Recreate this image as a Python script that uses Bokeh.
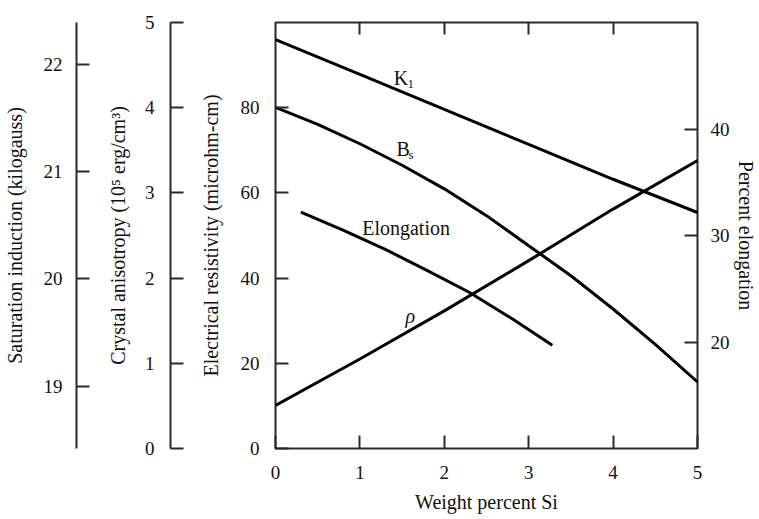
import math
from bokeh.plotting import figure
from bokeh.models import LinearAxis, Range1d, FixedTicker, Label, Title
from bokeh.embed import file_html
from bokeh.resources import INLINE

# ---- data ----
si = [0, 1, 2, 3, 4, 5]
k1 = [4.80, 4.39, 3.98, 3.57, 3.16, 2.77]            # 10^5 erg/cm^3
si_bs = [0, 0.5, 1, 1.5, 2, 2.5, 3, 3.5, 4, 4.5, 5]
bs = [21.60, 21.44, 21.26, 21.06, 20.84, 20.59, 20.31, 20.03, 19.72, 19.39, 19.04]  # kG
rho = [10.1, 21.0, 32.3, 44.1, 56.2, 67.6]           # microhm-cm
si_el = [0.3, 0.8, 1.3, 1.8, 2.3, 2.8, 3.28]
elong = [32.2, 30.5, 28.7, 26.7, 24.65, 22.2, 19.7]  # percent

x_ticks = [0, 1, 2, 3, 4, 5]
top_ticks = [1, 2, 3, 4]
res_ticks = [0, 20, 40, 60, 80]
k1_ticks = [0, 1, 2, 3, 4, 5]
bs_ticks = [19, 20, 21, 22]
el_ticks = [20, 30, 40]

FONT = "Liberation Serif"
INK = "#111111"
AX = "#2a2a2a"

p = figure(width=759, height=519, x_range=Range1d(0, 5), y_range=Range1d(0, 100),
           output_backend="svg", toolbar_location=None,
           min_border_left=275, min_border_right=62, min_border_top=22, min_border_bottom=71)
p.extra_y_ranges = {"k1": Range1d(0, 5), "bs": Range1d(18.42, 22.39), "el": Range1d(10, 50)}
p.xgrid.visible = False
p.ygrid.visible = False
p.outline_line_color = AX
p.outline_line_width = 2
p.background_fill_color = "white"
p.border_fill_color = "white"


def style(ax, ticks, tin, standoff, label=None, lstandoff=0, line=True, labels=True):
    ax.ticker = FixedTicker(ticks=ticks)
    ax.major_tick_in = tin
    ax.major_tick_out = 0
    ax.major_tick_line_width = 2
    ax.major_tick_line_color = AX
    ax.minor_tick_line_color = None
    ax.axis_line_width = 2
    ax.axis_line_color = AX if line else None
    ax.major_label_text_font = FONT
    ax.major_label_text_font_size = "19px" if labels else "0px"
    ax.major_label_text_color = INK
    ax.major_label_standoff = standoff
    if label:
        ax.axis_label = label
        ax.axis_label_text_font = FONT
        ax.axis_label_text_font_size = "20px"
        ax.axis_label_text_font_style = "normal"
        ax.axis_label_text_color = INK
        ax.axis_label_standoff = lstandoff


def spacer(width, rng, mid):
    return LinearAxis(y_range_name=rng, ticker=FixedTicker(ticks=[mid]), major_tick_out=width,
                      major_tick_in=0, axis_line_color=None, major_tick_line_color=None,
                      minor_tick_line_color=None, major_label_text_font_size="0px",
                      major_label_standoff=0, major_label_overrides={mid: ""})


# bottom x axis
xa = p.xaxis[0]
style(xa, x_ticks, 13, 17, line=False)
p.add_layout(Title(text="Weight percent Si", align="center", offset=70, standoff=14,
                   text_font=FONT, text_font_size="20px", text_font_style="normal",
                   text_color=INK), "below")

# top ticks
ta = LinearAxis()
style(ta, top_ticks, 12, 0, line=False, labels=False)
ta.major_label_overrides = {t: "" for t in top_ticks}
p.add_layout(ta, "above")

# main left axis (resistivity)
ya = p.yaxis[0]
style(ya, res_ticks, 13, 16, "Electrical resistivity (microhm-cm)", 16, line=False)

p.add_layout(spacer(26, "k1", 2.5), "left")
ka = LinearAxis(y_range_name="k1")
style(ka, k1_ticks, 13, 16, "Crystal anisotropy (10\u2075 erg/cm\u00b3)", 13)
p.add_layout(ka, "left")

p.add_layout(spacer(27, "bs", 20.5), "left")
ba = LinearAxis(y_range_name="bs")
style(ba, bs_ticks, 13, 14, "Saturation induction (kilogauss)", 15)
p.add_layout(ba, "left")

# right axis (elongation)
ea = LinearAxis(y_range_name="el")
style(ea, el_ticks, 13, 13, "Percent elongation", 2, line=False)
p.add_layout(ea, "right")

# curves
p.line(si, k1, y_range_name="k1", line_width=3, line_color="black")
p.line(si_bs, bs, y_range_name="bs", line_width=3, line_color="black")
p.line(si, rho, line_width=3, line_color="black")
p.line(si_el, elong, y_range_name="el", line_width=3, line_color="black")


def lab(x, y, text, size="20px", style_="normal", **kw):
    p.add_layout(Label(x=x, y=y, text=text, text_font=FONT, text_font_size=size,
                       text_font_style=style_, text_color=INK, text_baseline="alphabetic", **kw))


lab(1.40, 86.9, "K", text_align="left")
lab(1.565, 85.6, "1", size="13px", text_align="left")
lab(1.434, 70.3, "B", text_align="left")
lab(1.576, 69.0, "s", size="13px", text_align="left")
lab(1.027, 51.8, "Elongation", text_align="left")
lab(1.54, 31.0, "\u03c1", style_="italic", text_align="left")

open("out.html", "w").write(file_html(p, INLINE))
